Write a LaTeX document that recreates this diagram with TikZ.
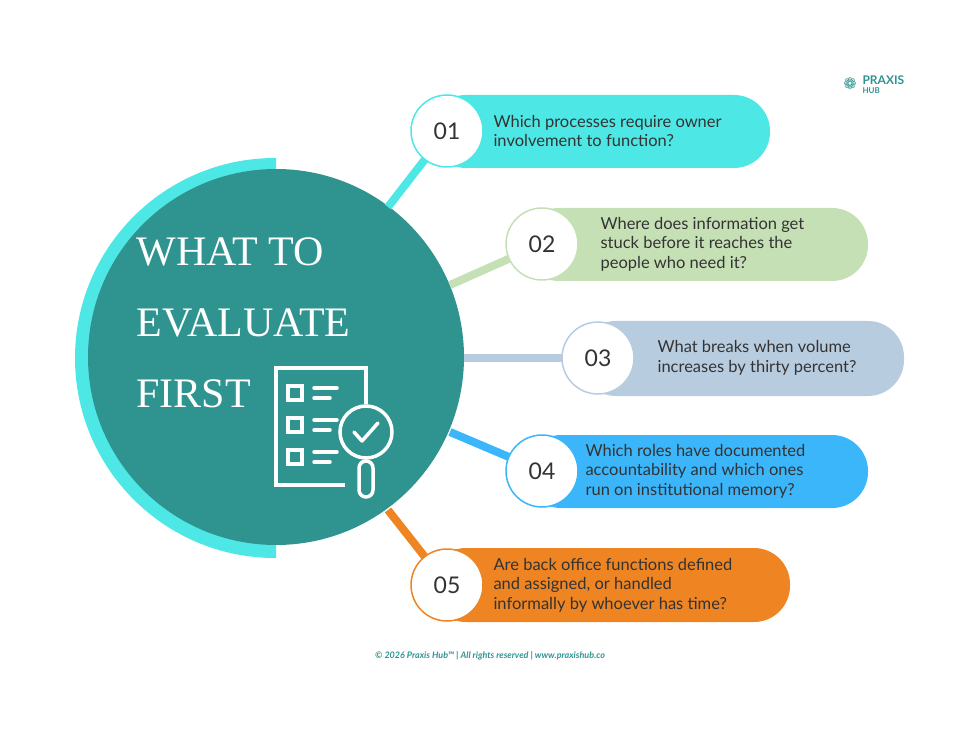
\documentclass[tikz,border=0pt]{standalone}
\usepackage{fontspec}
\setmainfont{Lato}
\newfontfamily\titlefont{Liberation Serif}
\newfontfamily\symfont{DejaVu Sans}
\definecolor{teal}{HTML}{2F9490}
\definecolor{aqua}{HTML}{4DE8E6}
\definecolor{sage}{HTML}{C5E0B4}
\definecolor{steel}{HTML}{B8CCE0}
\definecolor{sky}{HTML}{3BB6FA}
\definecolor{amber}{HTML}{EE8522}
\definecolor{ink}{HTML}{333333}
\begin{document}
\begin{tikzpicture}[x=1pt,y=-1pt,
  num node/.style={circle,draw,fill=white,line width=1.5pt,minimum size=72pt,font=\fontsize{23}{23}\selectfont,text=ink},
  ask/.style={anchor=west,align=left,font=\fontsize{16.5}{19.5}\selectfont,text=ink},
  link/.style={line width=8pt},
  icon/.style={white,line width=3.5pt}]
\useasboundingbox (0,0) rectangle (980,735);
% pills
\fill[aqua,rounded corners=36pt] (430,95) rectangle (770,168);
\fill[sage,rounded corners=36pt] (523,208) rectangle (868,281);
\fill[steel,rounded corners=36pt] (580,321) rectangle (904,396);
\fill[sky,rounded corners=36pt] (525,435) rectangle (868,508);
\fill[amber,rounded corners=36pt] (430,548) rectangle (790,622);
% big circle
\begin{scope}
  \clip (0,0) rectangle (276,735);
  \fill[aqua] (275,358) circle (200);
\end{scope}
\fill[teal] (276,357) circle (188);
% connectors
\coordinate (c1) at (388,207); \coordinate (p1) at (447,131);
\coordinate (c2) at (450,285); \coordinate (p2) at (542,244);
\coordinate (c3) at (464,358); \coordinate (p3) at (598,358);
\coordinate (c4) at (450,432); \coordinate (p4) at (542,471);
\coordinate (c5) at (388,510); \coordinate (p5) at (447,585);
\draw[link,aqua] (c1) -- (p1);
\draw[link,sage] (c2) -- (p2);
\draw[link,steel] (c3) -- (p3);
\draw[link,sky] (c4) -- (p4);
\draw[link,amber] (c5) -- (p5);
\node[num node,draw=aqua] (n1) at (p1) {01};
\node[num node,draw=sage] (n2) at (p2) {02};
\node[num node,draw=steel] (n3) at (p3) {03};
\node[num node,draw=sky] (n4) at (p4) {04};
\node[num node,draw=amber] (n5) at (p5) {05};
% questions
\node[ask] (q1) at (490,131) {Which processes require owner\\involvement to function?};
\node[ask] (q2) at (597,244) {Where does information get\\stuck before it reaches the\\people who need it?};
\node[ask] (q3) at (654,358) {What breaks when volume\\increases by thirty percent?};
\node[ask] (q4) at (582,471) {Which roles have documented\\accountability and which ones\\run on institutional memory?};
\node[ask] (q5) at (490,585) {Are back office functions defined\\and assigned, or handled\\informally by whoever has time?};
% title
\node[anchor=west,align=left,text=white,font=\titlefont\fontsize{42}{71}\selectfont] (title) at (133,323) {WHAT TO\\EVALUATE\\FIRST};
% icon
\draw[icon] (345,485) -- (276,485) -- (276,368) -- (366,368) -- (366,404);
\foreach \y in {393,425,457}{
  \draw[icon] (288,\y-7) rectangle (302,\y+7);
  \draw[icon,line cap=round] (314,\y-5) -- (337,\y-5);
  \draw[icon,line cap=round] (314,\y+5) -- (330,\y+5);
}
\draw[icon,fill=teal] (366,432) circle (26);
\draw[icon,line cap=round,line join=round] (354,432) -- (362,441) -- (378,423);
\draw[icon,rounded corners=7pt] (359,461) rectangle (373,497);
% logo and footer
\node[anchor=west,text=teal,font=\bfseries\fontsize{12}{12}\selectfont] (logo) at (859,80) {PRAXIS};
\node[anchor=west,text=teal,font=\bfseries\fontsize{8}{8}\selectfont] (hub) at (859,91) {HUB};
\node[text=teal,font=\symfont\fontsize{16}{16}\selectfont] (flower) at (850,84) {❁};
\node[text=teal,font=\bfseries\itshape\fontsize{9}{9}\selectfont] (foot) at (490,656) {© 2026 Praxis Hub™ | All rights reserved | www.praxishub.co};
\end{tikzpicture}
\end{document}
